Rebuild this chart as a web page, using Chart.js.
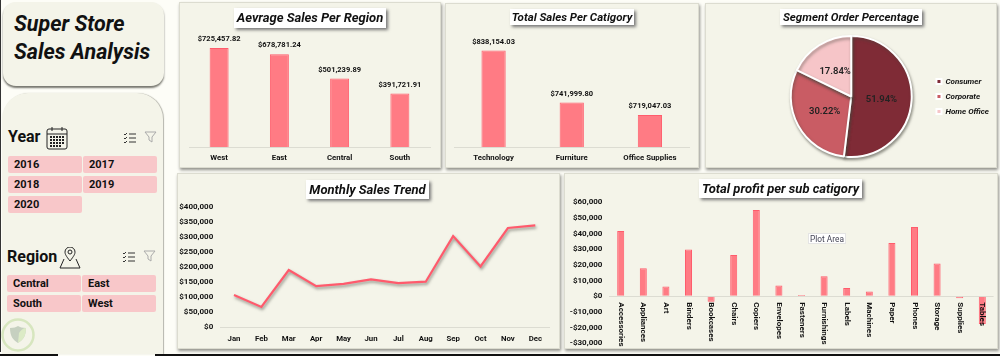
<!DOCTYPE html>
<html>
<head>
<meta charset="utf-8">
<script src="https://cdn.jsdelivr.net/npm/chart.js@4"></script>
<style>
  html, body { margin: 0; padding: 0; }
  body { width: 1000px; height: 356px; position: relative; overflow: hidden; background: #fdfdf7; font-family: Roboto, sans-serif; color: #111; }
  .card { position: absolute; background: #f4f4e9; border: 1px solid #dcdcd0; box-sizing: border-box; box-shadow: 1px 2px 3px #8f8f88; }
  canvas { position: absolute; display: block; }
  .title { position: absolute; background: #fff; box-shadow: 2px 2px 3px #777; font-weight: 700; font-style: italic; text-align: center; white-space: nowrap; }
  .head { position: absolute; background: #f4f4e9; left: 3px; top: 2px; width: 161px; height: 84px; border-radius: 13px; box-shadow: 0 2px 2px #77776f; font-size: 21.5px; line-height: 28px; font-weight: 700; font-style: italic; padding: 8px 0 0 11px; box-sizing: border-box; }
  .panel { position: absolute; left: 2px; top: 93px; width: 161px; height: 261px; background: #f4f4e9; border-radius: 26px 26px 0 0; box-shadow: 1px 0 1px #b5b5ac; }
  .slicer-name { position: absolute; font-size: 16px; font-weight: 700; }
  .btn { position: absolute; width: 74px; height: 17px; background: #f8c7c9; border-radius: 2px; font-size: 11px; line-height: 17px; font-weight: 700; padding-left: 6px; box-sizing: border-box; }
  .tip { position: absolute; left: 808px; top: 233px; width: 38px; height: 11px; background: #fff; border: 1px solid #e4e4e4; box-sizing: border-box; font-size: 8.3px; line-height: 10px; text-align: center; color: #445; }
  svg { position: absolute; }
</style>
</head>
<body>
<div style="position:absolute;left:0;top:0;width:1px;height:352px;background:#333"></div>
<div class="head">Super Store<br>Sales Analysis</div>
<div class="panel"></div>

<div class="slicer-name" style="left:8px;top:127px">Year</div>
<svg style="left:46px;top:126px" width="22" height="24" viewBox="0 0 22 24" fill="none" stroke="#222" stroke-width="1">
  <rect x="1" y="3" width="20" height="20" rx="2"/><path d="M1 8h20M6 1v4M16 1v4"/>
  <path d="M4 11h14M4 14h14M4 17h14M4 20h11" stroke-width="2" stroke-dasharray="2 1"/>
</svg>
<svg style="left:123px;top:132px" width="13" height="11" viewBox="0 0 13 11" fill="none" stroke="#333"><path d="M1 2l1 1 2-2M1 6l1 1 2-2M1 10l1 1 2-2M6 2h7M6 6h7M6 10h7"/></svg>
<svg style="left:144px;top:131px" width="13" height="13" viewBox="0 0 13 13" fill="none" stroke="#aaa"><path d="M1 1h11L8 6v5L5 9V6z"/></svg>

<div class="btn" style="left:8px;top:156px">2016</div>
<div class="btn" style="left:83px;top:156px">2017</div>
<div class="btn" style="left:8px;top:176px">2018</div>
<div class="btn" style="left:83px;top:176px">2019</div>
<div class="btn" style="left:8px;top:196px">2020</div>

<div class="slicer-name" style="left:7px;top:247px">Region</div>
<svg style="left:59px;top:247px" width="22" height="22" viewBox="0 0 22 22" fill="none" stroke="#222"><path d="M11 14C7 9 6 7 6 5a5 5 0 0 1 10 0c0 2-1 4-5 9z"/><circle cx="11" cy="5" r="2"/><path d="M5 12L1 21h20l-4-9"/></svg>
<svg style="left:122px;top:251px" width="13" height="11" viewBox="0 0 13 11" fill="none" stroke="#333"><path d="M1 2l1 1 2-2M1 6l1 1 2-2M1 10l1 1 2-2M6 2h7M6 6h7M6 10h7"/></svg>
<svg style="left:143px;top:250px" width="13" height="13" viewBox="0 0 13 13" fill="none" stroke="#aaa"><path d="M1 1h11L8 6v5L5 9V6z"/></svg>

<div class="btn" style="left:7px;top:275px">Central</div>
<div class="btn" style="left:82px;top:275px">East</div>
<div class="btn" style="left:7px;top:295px">South</div>
<div class="btn" style="left:82px;top:295px">West</div>

<svg style="left:1px;top:318px" width="36" height="36" viewBox="0 0 36 36" fill="none">
  <circle cx="17" cy="17" r="15.5" stroke="#d7e6bf" stroke-width="2.5"/>
  <path d="M9 10c4 0 6-1 8-2 2 1 4 2 8 2 0 8-3 12-8 15-5-3-8-7-8-15z" fill="#c6d0c0"/>
  <path d="M17 25c5-3 8-7 8-15-3 0-5 2-7 5z" fill="#dcebc6"/>
</svg>

<div class="card" style="left:179px;top:2px;width:262px;height:166px"></div>
<div class="card" style="left:445px;top:3px;width:254px;height:165px"></div>
<div class="card" style="left:705px;top:3px;width:292px;height:165px"></div>
<div class="card" style="left:177px;top:173px;width:383px;height:176px"></div>
<div class="card" style="left:564px;top:173px;width:434px;height:176px"></div>

<canvas id="regionChart" width="262" height="166" style="left:179px;top:2px"></canvas>
<canvas id="categoryChart" width="254" height="165" style="left:445px;top:3px"></canvas>
<canvas id="segmentChart" width="292" height="165" style="left:705px;top:3px"></canvas>
<canvas id="monthlyChart" width="383" height="176" style="left:177px;top:173px"></canvas>
<canvas id="profitChart" width="434" height="176" style="left:564px;top:173px"></canvas>

<div class="title" style="left:234px;top:8px;width:152px;height:20px;font-size:13px;line-height:20px">Aevrage Sales Per Region</div>
<div class="title" style="left:510px;top:9px;width:124px;height:16px;font-size:11.5px;line-height:16px">Total Sales Per Catigory</div>
<div class="title" style="left:780px;top:9px;width:142px;height:16px;font-size:11.5px;line-height:16px">Segment Order Percentage</div>
<div class="title" style="left:306px;top:180px;width:123px;height:19px;font-size:13px;line-height:19px">Monthly Sales Trend</div>
<div class="title" style="left:699px;top:179px;width:163px;height:19px;font-size:13px;line-height:19px">Total profit per sub catigory</div>
<div class="tip">Plot Area</div>

<div style="position:absolute;left:0;top:354px;width:58px;height:2px;background:#111"></div>
<div style="position:absolute;left:155px;top:354px;width:845px;height:2px;background:#111"></div>

<script>
const regions = ['West', 'East', 'Central', 'South'];
const regionSales = [725457.82, 678781.24, 501239.89, 391721.91];

const categories = ['Technology', 'Furniture', 'Office Supplies'];
const categorySales = [838154.03, 741999.80, 719047.03];

const segments = ['Consumer', 'Corporate', 'Home Office'];
const segmentShare = [51.94, 30.22, 17.84];

const months = ['Jan', 'Feb', 'Mar', 'Apr', 'May', 'Jun', 'Jul', 'Aug', 'Sep', 'Oct', 'Nov', 'Dec'];
const monthlySales = [107000, 67000, 190000, 136000, 144000, 159000, 146000, 151000, 303000, 202000, 330000, 339000];

const subCategories = ['Accessories', 'Appliances', 'Art', 'Binders', 'Bookcases', 'Chairs', 'Copiers', 'Envelopes',
    'Fasteners', 'Furnishings', 'Labels', 'Machines', 'Paper', 'Phones', 'Storage', 'Supplies', 'Tables'];
const subCategoryProfit = [41700, 17900, 6200, 29800, -3400, 26400, 55100, 6900, 900, 12800, 5300, 3000, 34000, 44300, 20900, -1200, -17700];

const barFill = '#ff7b84';
const barEdge = '#ff5c6c';
const axisLine = '#dcdcd2';

Chart.defaults.animation = false;
Chart.defaults.responsive = false;
Chart.defaults.font.family = 'Roboto, sans-serif';
Chart.defaults.color = '#111';
Chart.defaults.plugins.tooltip.enabled = false;
Chart.defaults.plugins.legend.display = false;

const money = v => (v < 0 ? '-$' : '$') + Math.abs(v).toLocaleString('en-US');
const moneyCents = v => '$' + v.toLocaleString('en-US', { minimumFractionDigits: 2, maximumFractionDigits: 2 });

// dollar figure above each bar
const barValues = {
    id: 'barValues',
    afterDatasetsDraw(chart) {
        const ctx = chart.ctx;
        const values = chart.data.datasets[0].data;
        ctx.save();
        ctx.font = 'bold 7.5px Roboto, sans-serif';
        ctx.fillStyle = '#111';
        ctx.textAlign = 'center';
        ctx.textBaseline = 'bottom';
        chart.getDatasetMeta(0).data.forEach((bar, i) => {
            ctx.fillText(moneyCents(values[i]), bar.x, bar.y - 5);
        });
        ctx.restore();
    }
};

const dropShadow = {
    id: 'dropShadow',
    beforeDatasetsDraw(chart) {
        chart.ctx.save();
        chart.ctx.shadowColor = 'rgba(70,70,60,0.55)';
        chart.ctx.shadowBlur = 3;
        chart.ctx.shadowOffsetX = 1;
        chart.ctx.shadowOffsetY = 2;
    },
    afterDatasetsDraw(chart) {
        chart.ctx.restore();
    }
};

// percentages inside the slices
const pieValues = {
    id: 'pieValues',
    afterDatasetsDraw(chart) {
        const ctx = chart.ctx;
        ctx.save();
        ctx.font = '600 9.5px Roboto, sans-serif';
        ctx.fillStyle = '#222';
        ctx.textAlign = 'center';
        ctx.textBaseline = 'middle';
        chart.getDatasetMeta(0).data.forEach((arc, i) => {
            const p = arc.tooltipPosition();
            ctx.fillText(segmentShare[i].toFixed(2) + '%', p.x, p.y + 1);
        });
        ctx.restore();
    }
};

// sub category names hang under the zero line, reading top to bottom
const hangingLabels = {
    id: 'hangingLabels',
    afterDraw(chart) {
        const ctx = chart.ctx;
        const x = chart.scales.x;
        const zero = chart.scales.y.getPixelForValue(0);
        ctx.save();
        ctx.font = 'bold 8px Roboto, sans-serif';
        ctx.fillStyle = '#111';
        ctx.textAlign = 'left';
        ctx.textBaseline = 'middle';
        subCategories.forEach((name, i) => {
            ctx.save();
            ctx.translate(x.getPixelForValue(i), zero + 6);
            ctx.rotate(Math.PI / 2);
            ctx.fillText(name, 0, 0);
            ctx.restore();
        });
        ctx.restore();
    }
};

function simpleBar(id, labels, values, yMin, yMax, padding, barPct) {
    return new Chart(document.getElementById(id), {
        type: 'bar',
        data: {
            labels: labels,
            datasets: [{
                data: values,
                backgroundColor: barFill,
                borderColor: barEdge,
                borderWidth: 1,
                barPercentage: barPct,
                categoryPercentage: 1
            }]
        },
        options: {
            layout: { padding: padding },
            scales: {
                x: {
                    afterFit: s => { s.height = 21; },
                    grid: { display: false, drawTicks: false },
                    border: { color: axisLine },
                    ticks: { font: { size: 7.8, weight: 'bold' }, padding: 6, maxRotation: 0 }
                },
                y: { display: false, min: yMin, max: yMax }
            }
        },
        plugins: [barValues]
    });
}

simpleBar('regionChart', regions, regionSales, 0, 952000, { left: 10, right: 11, top: 15, bottom: 0 }, 0.315);
simpleBar('categoryChart', categories, categorySales, 660000, 900000, { left: 9.5, right: 10, top: 14, bottom: 0 }, 0.31);

new Chart(document.getElementById('segmentChart'), {
    type: 'pie',
    data: {
        labels: segments,
        datasets: [{
            data: segmentShare,
            backgroundColor: ['#7f2b36', '#c95c64', '#f6c5c8'],
            borderColor: '#ffffff',
            borderWidth: 2
        }]
    },
    options: {
        layout: { padding: { left: 68, right: -2, top: 32, bottom: 10 } },
        plugins: {
            legend: {
                display: true,
                position: 'right',
                labels: {
                    font: { size: 8, weight: 'bold', style: 'italic' },
                    boxWidth: 5,
                    boxHeight: 5,
                    padding: 7
                }
            }
        }
    },
    plugins: [dropShadow, pieValues]
});

new Chart(document.getElementById('monthlyChart'), {
    type: 'line',
    data: {
        labels: months,
        datasets: [{
            data: monthlySales,
            borderColor: '#ff5a6c',
            borderWidth: 2.2,
            pointRadius: 0,
            tension: 0
        }]
    },
    options: {
        layout: { padding: { right: 11, top: 34, bottom: 0 } },
        scales: {
            x: {
                offset: true,
                afterFit: s => { s.height = 22; },
                grid: { display: false, drawTicks: false },
                border: { color: axisLine },
                ticks: { font: { size: 7.8, weight: 'bold' }, padding: 7, maxRotation: 0 }
            },
            y: {
                min: 0,
                max: 400000,
                afterFit: s => { s.width = 43.3; },
                grid: { display: false, drawTicks: false },
                border: { display: false },
                ticks: { stepSize: 50000, font: { size: 8, weight: 'bold' }, padding: 7, callback: money }
            }
        }
    },
    plugins: [dropShadow]
});

new Chart(document.getElementById('profitChart'), {
    type: 'bar',
    data: {
        labels: subCategories,
        datasets: [{
            data: subCategoryProfit,
            backgroundColor: barFill,
            borderColor: barEdge,
            borderWidth: 1,
            barPercentage: 0.31,
            categoryPercentage: 1
        }]
    },
    options: {
        layout: { padding: { right: 4.4, top: 29.3, bottom: 5.7 } },
        scales: {
            x: { display: false },
            y: {
                min: -30000,
                max: 60000,
                // tick padding would otherwise eat into the bottom of the plot
                afterFit: s => { s.width = 45.4; s.paddingBottom = 0; },
                // only the zero line shows
                grid: { color: c => c.tick.value === 0 ? axisLine : 'transparent', drawTicks: false },
                border: { display: false },
                ticks: { stepSize: 10000, font: { size: 8, weight: 'bold' }, padding: 7, callback: money }
            }
        }
    },
    plugins: [hangingLabels]
});
</script>
</body>
</html>
